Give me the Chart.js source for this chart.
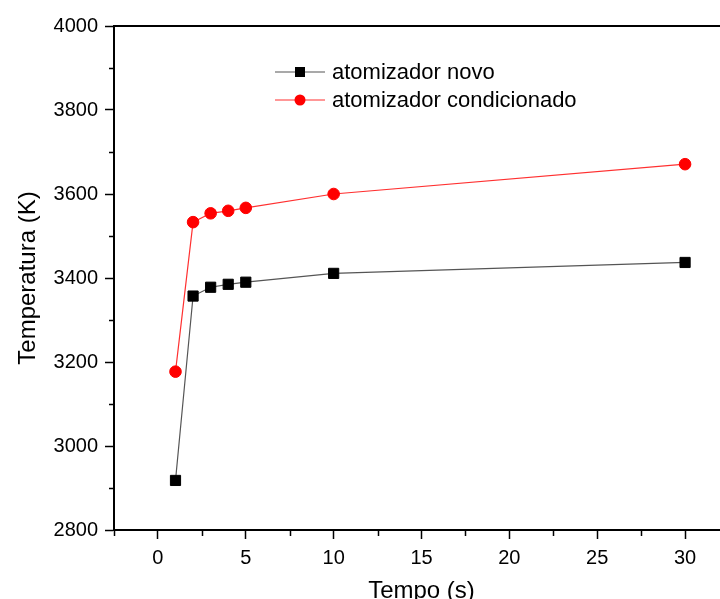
<!DOCTYPE html>
<html>
<head>
<meta charset="utf-8">
<script src="https://cdn.jsdelivr.net/npm/chart.js@4.4.0/dist/chart.umd.min.js"></script>
<style>
  html, body { margin: 0; padding: 0; overflow: hidden; background: #fff; width: 720px; height: 599px; }
  #wrap { position: absolute; left: 0; top: 0; width: 740px; height: 615px; }
</style>
</head>
<body>
<div id="wrap"><canvas id="chart"></canvas></div>
<script>
// Tempo (s)
var tempo = [1, 2, 3, 4, 5, 10, 30];
// Temperatura (K)
var novo = [2918, 3357, 3378, 3385, 3390, 3411, 3437];
var condicionado = [3177, 3533, 3554, 3560, 3567, 3600, 3671];
var seriesNames = ["atomizador novo", "atomizador condicionado"];
var xTicks = [0, 5, 10, 15, 20, 25, 30];

var FONT = "'Liberation Sans', Arial, sans-serif";

function pts(ys) {
    var out = [];
    for (var i = 0; i < tempo.length; i++) out.push({x: tempo[i], y: ys[i]});
    return out;
}

// minor ticks, top frame line and the legend inside the plot
var extras = {
    id: "extras",
    afterDraw: function(chart) {
        var ctx = chart.ctx, a = chart.chartArea;
        var xs = chart.scales.x, ys = chart.scales.y;
        ctx.save();
        ctx.strokeStyle = "#000";
        ctx.lineWidth = 2;
        ctx.beginPath();
        ctx.moveTo(a.left - 1, a.top);
        ctx.lineTo(a.right + 20, a.top);
        ctx.stroke();

        ctx.lineWidth = 1.5;
        ctx.beginPath();
        for (var v = -2.5; v <= 32.5; v += 5) {
            var px = Math.round(xs.getPixelForValue(v)) + 0.5;
            ctx.moveTo(px, a.bottom);
            ctx.lineTo(px, a.bottom + 6);
        }
        for (var t = 2900; t < 4000; t += 200) {
            var py = Math.round(ys.getPixelForValue(t)) + 0.5;
            ctx.moveTo(a.left, py);
            ctx.lineTo(a.left - 5, py);
        }
        ctx.stroke();

        // legend
        var lx = 275, rows = [72, 100];
        ctx.font = "22px " + FONT;
        ctx.textBaseline = "middle";
        chart.data.datasets.forEach(function(ds, i) {
            var y = rows[i];
            ctx.strokeStyle = ds.borderColor;
            ctx.lineWidth = 1.2;
            ctx.beginPath();
            ctx.moveTo(lx, y);
            ctx.lineTo(lx + 50, y);
            ctx.stroke();
            ctx.fillStyle = ds.pointBackgroundColor;
            ctx.beginPath();
            if (ds.pointStyle === "rect") {
                ctx.rect(lx + 25 - 5, y - 5, 10, 10);
            } else {
                ctx.arc(lx + 25, y, 5.5, 0, Math.PI * 2);
            }
            ctx.fill();
            ctx.fillStyle = "#000";
            ctx.fillText(ds.label, lx + 57, y + 1);
        });
        ctx.restore();
    }
};

new Chart(document.getElementById("chart"), {
    type: "line",
    data: {
        datasets: [{
            label: seriesNames[0],
            data: pts(novo),
            borderColor: "#555555",
            borderWidth: 1.2,
            pointStyle: "rect",
            pointRadius: 7.2,
            pointBackgroundColor: "#000000",
            pointBorderColor: "#000000",
            pointBorderWidth: 1,
            tension: 0
        }, {
            label: seriesNames[1],
            data: pts(condicionado),
            borderColor: "#ff3030",
            borderWidth: 1.2,
            pointStyle: "circle",
            pointRadius: 5.8,
            pointBackgroundColor: "#ff0000",
            pointBorderColor: "#ff0000",
            pointBorderWidth: 1,
            tension: 0
        }]
    },
    options: {
        responsive: true,
        maintainAspectRatio: false,
        animation: false,
        layout: { padding: { top: 26, right: 11, left: 0, bottom: 0 } },
        plugins: { legend: { display: false }, tooltip: { enabled: false } },
        scales: {
            x: {
                type: "linear",
                min: -2.5,
                max: 32.5,
                afterBuildTicks: function(s) {
                    s.ticks = xTicks.map(function(v) { return {value: v}; });
                },
                afterFit: function(s) { s.height = 85; },
                grid: { drawOnChartArea: false, drawTicks: true, tickLength: 9, tickColor: "#000", tickWidth: 1.5 },
                border: { color: "#000", width: 2 },
                ticks: { color: "#000", padding: 7, font: { family: FONT, size: 20 },
                         callback: function(v) { return String(v); } },
                title: { display: true, text: "Tempo (s)", color: "#000", font: { family: FONT, size: 24 }, padding: { top: 0, bottom: 9 } }
            },
            y: {
                min: 2800,
                max: 4000,
                ticks: { stepSize: 200, color: "#000", padding: 7, font: { family: FONT, size: 20 },
                         callback: function(v) { return String(v); } },
                afterFit: function(s) { s.width = 114; },
                grid: { drawOnChartArea: false, drawTicks: true, tickLength: 9, tickColor: "#000", tickWidth: 1.5 },
                border: { color: "#000", width: 2 },
                title: { display: true, text: "Temperatura (K)", color: "#000", font: { family: FONT, size: 24 }, padding: { top: 14, bottom: 0 } }
            }
        }
    },
    plugins: [extras]
});
</script>
</body>
</html>
